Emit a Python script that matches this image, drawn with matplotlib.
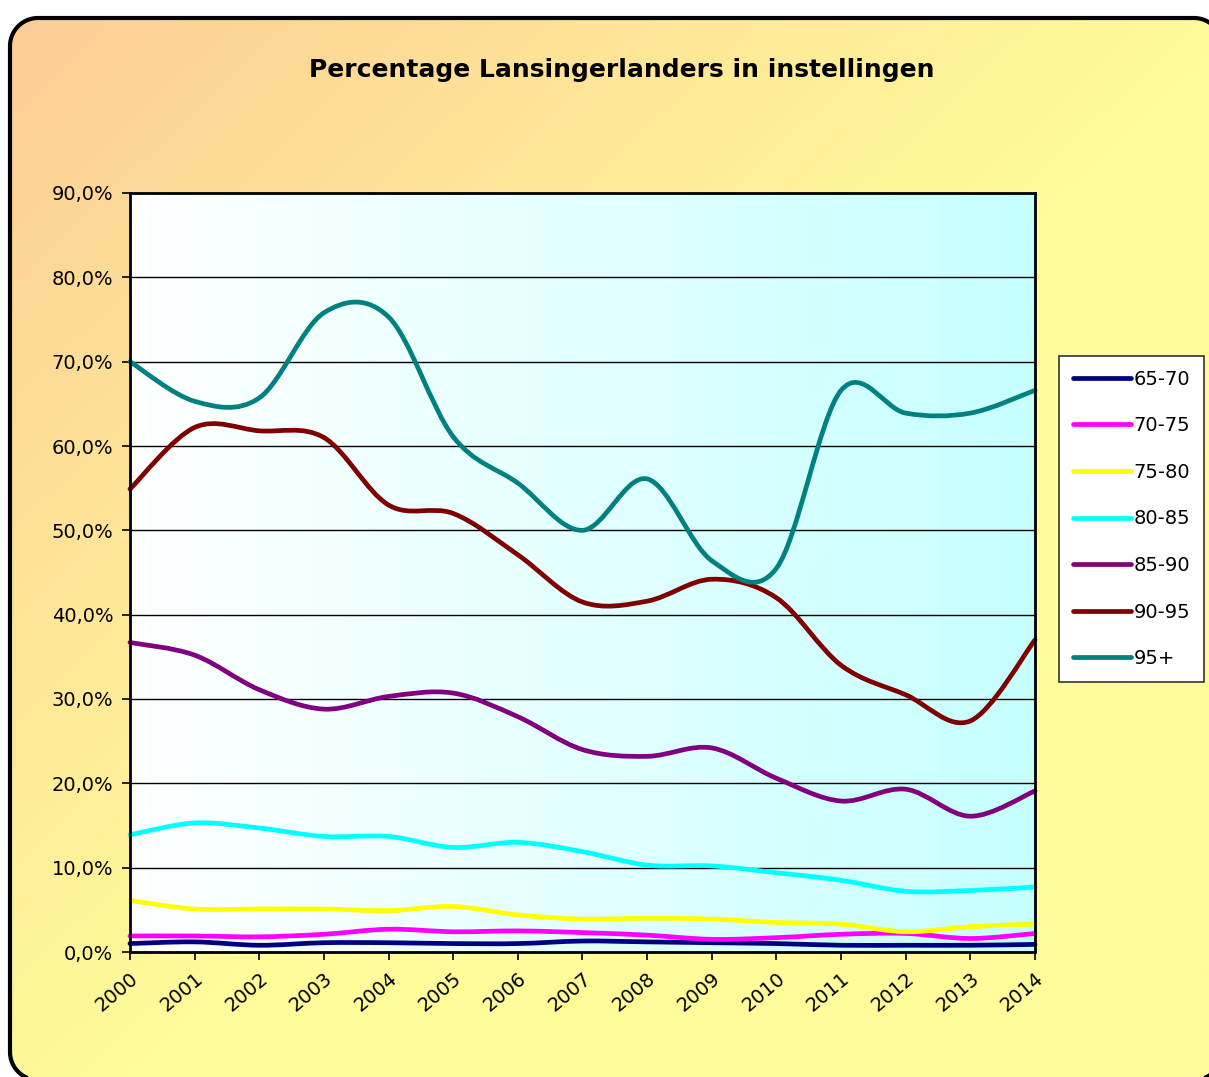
import numpy as np
import matplotlib
matplotlib.use('Agg')
import matplotlib.pyplot as plt
from matplotlib.path import Path
from matplotlib.patches import PathPatch, Polygon
from matplotlib.lines import Line2D
from matplotlib.ticker import FuncFormatter

years = list(range(2000, 2015))
series_labels = ['65-70', '70-75', '75-80', '80-85', '85-90', '90-95', '95+']
s_65_70 = [1.0, 1.2, 0.8, 1.1, 1.1, 1.0, 1.0, 1.3, 1.2, 1.1, 1.0, 0.8, 0.8, 0.8, 0.9]
s_70_75 = [1.9, 1.9, 1.8, 2.1, 2.7, 2.4, 2.5, 2.3, 2.0, 1.5, 1.7, 2.1, 2.2, 1.6, 2.2]
s_75_80 = [6.1, 5.1, 5.1, 5.1, 4.9, 5.4, 4.4, 3.9, 4.0, 3.9, 3.5, 3.3, 2.4, 3.0, 3.3]
s_80_85 = [13.9, 15.3, 14.7, 13.7, 13.7, 12.4, 13.0, 11.9, 10.3, 10.2, 9.4, 8.5, 7.2, 7.3, 7.7]
s_85_90 = [36.7, 35.2, 31.1, 28.8, 30.3, 30.7, 27.9, 24.0, 23.2, 24.2, 20.6, 17.9, 19.3, 16.1, 19.1]
s_90_95 = [54.9, 62.2, 61.8, 61.0, 53.0, 52.0, 47.1, 41.5, 41.6, 44.2, 42.0, 34.0, 30.5, 27.4, 37.0]
s_95p = [70.0, 65.3, 65.7, 75.8, 75.3, 61.1, 55.6, 50.0, 56.1, 46.4, 45.5, 66.6, 63.9, 63.9, 66.6]
series = [s_65_70, s_70_75, s_75_80, s_80_85, s_85_90, s_90_95, s_95p]
colors = ['#000080', '#FF00FF', '#FFFF00', '#00FFFF', '#800080', '#800000', '#008080']
title = 'Percentage Lansingerlanders in instellingen'

W, H = 1209, 1077
fig = plt.figure(figsize=(W / 100, H / 100), dpi=100)
fig.patch.set_facecolor('white')

# background axes in pixel coordinates (y measured from top)
bg = fig.add_axes([0, 0, 1, 1], zorder=0)
bg.set_xlim(0, W)
bg.set_ylim(H, 0)
bg.axis('off')


def rounded_rect_pts(xa, ya, xb, yb, rad, n=24):
    pts = []
    corners = [(xb - rad, ya + rad, -90, 0), (xb - rad, yb - rad, 0, 90),
               (xa + rad, yb - rad, 90, 180), (xa + rad, ya + rad, 180, 270)]
    for cx, cy, a0, a1 in corners:
        ang = np.radians(np.linspace(a0, a1, n))
        for a in ang:
            pts.append((cx + rad * np.cos(a), cy + rad * np.sin(a)))
    return np.array(pts)


fpts = rounded_rect_pts(10, 18, 1222, 1080, 28)
gx, gy = np.meshgrid(np.linspace(0, 1, 400), np.linspace(0, 1, 400))
t = np.clip(gx * 0.95 + gy * 0.9, 0, 1)
c0 = np.array([253, 203, 150]) / 255.0
c1 = np.array([255, 252, 153]) / 255.0
img = c0[None, None, :] * (1 - t[..., None]) + c1[None, None, :] * t[..., None]
im = bg.imshow(img, extent=[0, W, H, 0], aspect='auto', zorder=1)
clip = Polygon(fpts, closed=True, transform=bg.transData)
im.set_clip_path(clip)
bg.add_patch(Polygon(fpts, closed=True, facecolor='none', edgecolor='black',
                     linewidth=3, zorder=3, joinstyle='round'))

fig.text(622 / W, 1 - 70 / H, title, ha='center', va='center',
         fontsize=18, fontweight='bold', family='DejaVu Sans')

# main axes
L, R, T, B = 130, 1035, 193, 952
ax = fig.add_axes([L / W, 1 - B / H, (R - L) / W, (B - T) / H], zorder=2)
ax.set_facecolor('none')
pg = np.linspace(0, 1, 256)[None, :]
cw = np.array([1.0, 1.0, 1.0])
cc = np.array([0xC6, 0xFF, 0xFF]) / 255.0
pimg = cw[None, None, :] * (1 - pg[..., None]) + cc[None, None, :] * pg[..., None]
ax.imshow(pimg, extent=[0, 1, 0, 1], transform=ax.transAxes, aspect='auto', zorder=0)

ax.set_xlim(years[0], years[-1])
ax.set_ylim(0, 90)
ax.set_yticks(np.arange(0, 91, 10))
ax.set_xticks(years)
ax.yaxis.set_major_formatter(FuncFormatter(lambda v, p: f"{v:.1f}".replace('.', ',') + '%'))
ax.set_xticklabels([str(y) for y in years], rotation=40, ha='right',
                   rotation_mode='anchor', fontsize=14)
ax.tick_params(axis='y', labelsize=14, direction='out', length=6, width=1.2, pad=6)
ax.tick_params(axis='x', direction='out', length=6, width=1.2, pad=6)
ax.grid(axis='y', color='black', linewidth=1.0, zorder=1)
ax.set_axisbelow(False)
for sp in ax.spines.values():
    sp.set_linewidth(2)
    sp.set_color('black')
    sp.set_zorder(5)


def smooth_path(xs, ys):
    xs = np.asarray(xs, float)
    ys = np.asarray(ys, float)
    pts = np.column_stack([xs, ys])
    n = len(pts)
    verts = [pts[0]]
    codes = [Path.MOVETO]
    for i in range(n - 1):
        p0 = pts[i - 1] if i > 0 else pts[i]
        p1 = pts[i]
        p2 = pts[i + 1]
        p3 = pts[i + 2] if i + 2 < n else pts[i + 1]
        c1 = p1 + (p2 - p0) / 6.0
        c2 = p2 - (p3 - p1) / 6.0
        verts += [c1, c2, p2]
        codes += [Path.CURVE4] * 3
    return Path(verts, codes)


for vals, col in zip(series, colors):
    patch = PathPatch(smooth_path(years, vals), facecolor='none', edgecolor=col,
                      linewidth=3.4, capstyle='round', joinstyle='round', zorder=3,
                      clip_on=False)
    ax.add_patch(patch)

handles = [Line2D([], [], color=c, linewidth=3.4, solid_capstyle='round') for c in colors]
leg = fig.legend(handles, series_labels, loc='upper left',
                 bbox_to_anchor=(1059 / W, 1 - 356 / H), fontsize=14,
                 frameon=True, fancybox=False, edgecolor='#333333', facecolor='white',
                 framealpha=1, handlelength=3.0, handletextpad=0.15,
                 labelspacing=1.42, borderpad=0.7, borderaxespad=0)
leg.get_frame().set_linewidth(1.2)
leg.set_zorder(6)

fig.savefig('out.png', dpi=100)
